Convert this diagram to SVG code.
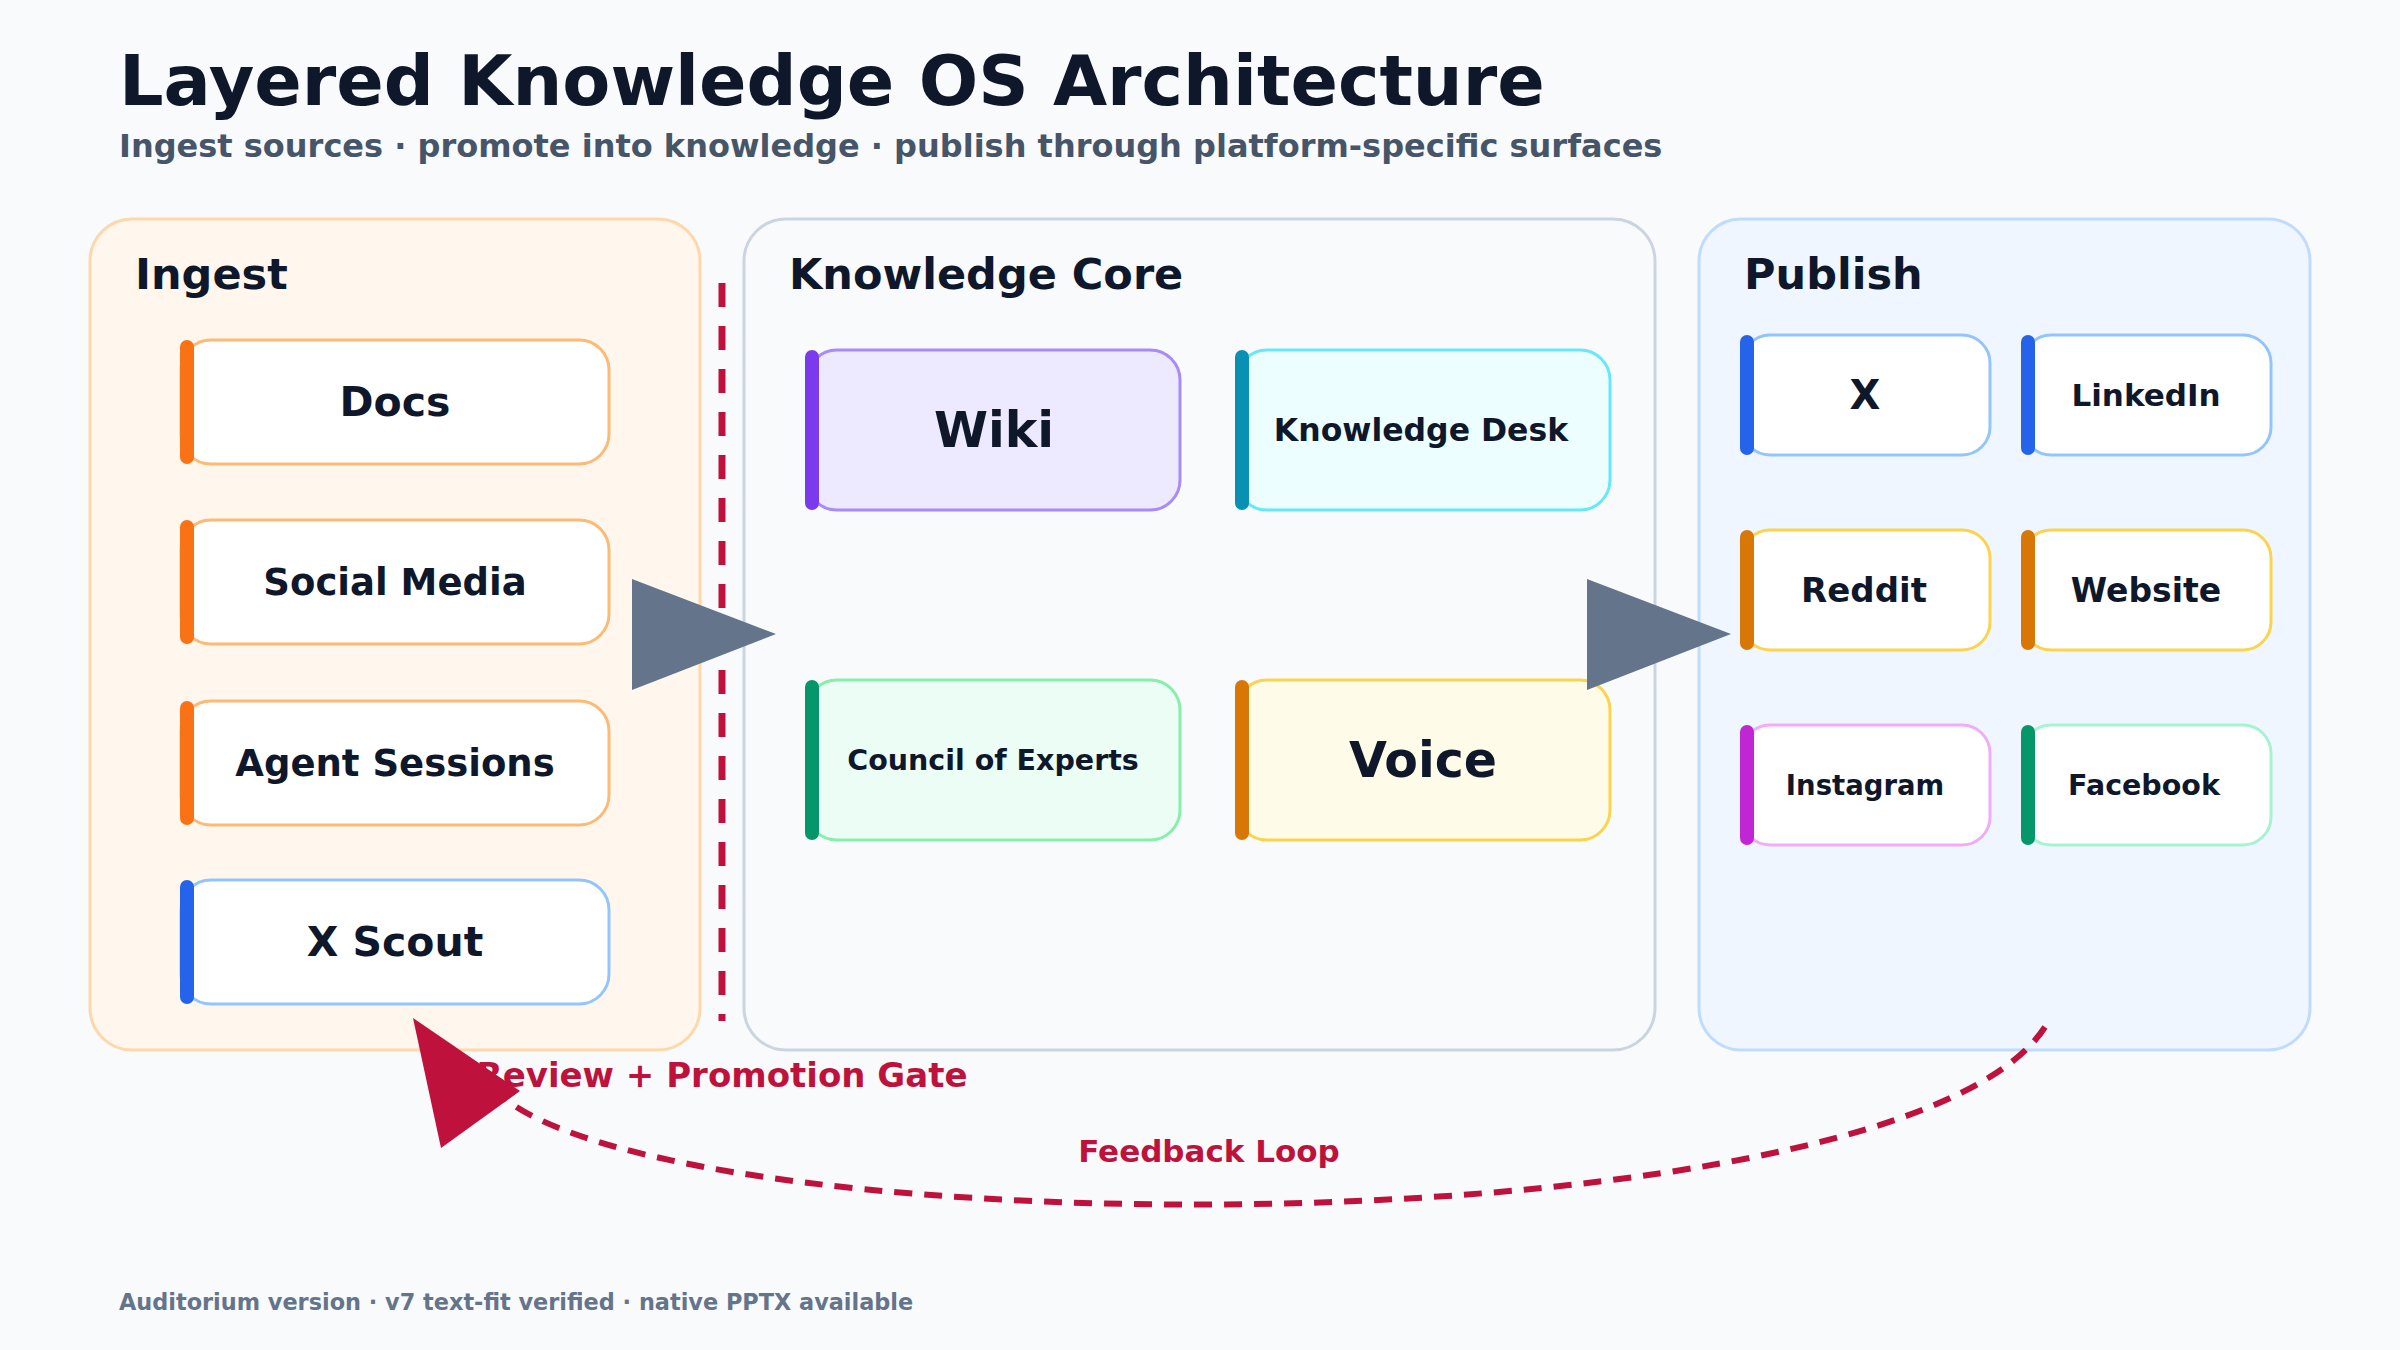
<svg xmlns="http://www.w3.org/2000/svg" width="2400" height="1350" viewBox="0 0 2400 1350">
<style>
text{font-family:"DejaVu Sans","Liberation Sans",sans-serif;font-weight:bold;fill:#0f172a}
.c{text-anchor:middle}
.panel{stroke-width:3}
.node{stroke-width:3}
.lbl{dominant-baseline:central;text-anchor:middle}
</style>
<rect width="2400" height="1350" fill="#f8fafc"/>
<text x="119" y="105" font-size="70">Layered Knowledge OS Architecture</text>
<text x="119" y="157" font-size="32" style="fill:#475569">Ingest sources · promote into knowledge · publish through platform-specific surfaces</text>

<g id="panel-ingest"><rect class="panel" x="90" y="219" width="610" height="831" rx="42" fill="#fff7ed" stroke="#fed7aa"/><text x="135" y="289" font-size="43">Ingest</text></g>
<g id="panel-core"><rect class="panel" x="744" y="219" width="911" height="831" rx="42" fill="#f8fafc" stroke="#cbd5e1"/><text x="789" y="289" font-size="43">Knowledge Core</text></g>
<g id="panel-publish"><rect class="panel" x="1699" y="219" width="611" height="831" rx="42" fill="#eff6ff" stroke="#bfdbfe"/><text x="1744" y="289" font-size="43">Publish</text></g>

<g id="docs"><rect class="node" x="181" y="340" width="428" height="124" rx="30" fill="#fff" stroke="#fdba74"/><rect x="180" y="340" width="14" height="124" rx="7" fill="#f97316"/><text class="lbl" x="395" y="402" font-size="41">Docs</text></g>
<g id="social"><rect class="node" x="181" y="520" width="428" height="124" rx="30" fill="#fff" stroke="#fdba74"/><rect x="180" y="520" width="14" height="124" rx="7" fill="#f97316"/><text class="lbl" x="395" y="582" font-size="37">Social Media</text></g>
<g id="agent"><rect class="node" x="181" y="701" width="428" height="124" rx="30" fill="#fff" stroke="#fdba74"/><rect x="180" y="701" width="14" height="124" rx="7" fill="#f97316"/><text class="lbl" x="395" y="763" font-size="37">Agent Sessions</text></g>
<g id="xscout"><rect class="node" x="181" y="880" width="428" height="124" rx="30" fill="#fff" stroke="#93c5fd"/><rect x="180" y="880" width="14" height="124" rx="7" fill="#2563eb"/><text class="lbl" x="395" y="942" font-size="41">X Scout</text></g>

<g id="wiki"><rect class="node" x="807" y="350" width="373" height="160" rx="30" fill="#ede9fe" stroke="#a78bfa"/><rect x="805" y="350" width="14" height="160" rx="7" fill="#7c3aed"/><text class="lbl" x="994" y="430" font-size="49">Wiki</text></g>
<g id="desk"><rect class="node" x="1237" y="350" width="373" height="160" rx="30" fill="#ecfeff" stroke="#67e8f9"/><rect x="1235" y="350" width="14" height="160" rx="7" fill="#0891b2"/><text class="lbl" x="1421" y="430" font-size="31.5">Knowledge Desk</text></g>
<g id="council"><rect class="node" x="807" y="680" width="373" height="160" rx="30" fill="#ecfdf5" stroke="#86efac"/><rect x="805" y="680" width="14" height="160" rx="7" fill="#059669"/><text class="lbl" x="993" y="760" font-size="28.5">Council of Experts</text></g>
<g id="voice"><rect class="node" x="1237" y="680" width="373" height="160" rx="30" fill="#fefce8" stroke="#fcd34d"/><rect x="1235" y="680" width="14" height="160" rx="7" fill="#d97706"/><text class="lbl" x="1423" y="760" font-size="49">Voice</text></g>

<g id="x"><rect class="node" x="1742" y="335" width="248" height="120" rx="28" fill="#fff" stroke="#93c5fd"/><rect x="1740" y="335" width="14" height="120" rx="7" fill="#2563eb"/><text class="lbl" x="1865" y="395" font-size="40">X</text></g>
<g id="linkedin"><rect class="node" x="2023" y="335" width="248" height="120" rx="28" fill="#fff" stroke="#93c5fd"/><rect x="2021" y="335" width="14" height="120" rx="7" fill="#2563eb"/><text class="lbl" x="2146" y="395" font-size="31">LinkedIn</text></g>
<g id="reddit"><rect class="node" x="1742" y="530" width="248" height="120" rx="28" fill="#fff" stroke="#fcd34d"/><rect x="1740" y="530" width="14" height="120" rx="7" fill="#d97706"/><text class="lbl" x="1864" y="590" font-size="34">Reddit</text></g>
<g id="website"><rect class="node" x="2023" y="530" width="248" height="120" rx="28" fill="#fff" stroke="#fcd34d"/><rect x="2021" y="530" width="14" height="120" rx="7" fill="#d97706"/><text class="lbl" x="2146" y="590" font-size="33">Website</text></g>
<g id="instagram"><rect class="node" x="1742" y="725" width="248" height="120" rx="28" fill="#fff" stroke="#f0abfc"/><rect x="1740" y="725" width="14" height="120" rx="7" fill="#c026d3"/><text class="lbl" x="1865" y="785" font-size="27.5">Instagram</text></g>
<g id="facebook"><rect class="node" x="2023" y="725" width="248" height="120" rx="28" fill="#fff" stroke="#a7f3d0"/><rect x="2021" y="725" width="14" height="120" rx="7" fill="#059669"/><text class="lbl" x="2144" y="785" font-size="28.5">Facebook</text></g>

<g id="connectors">
<line x1="722" y1="283" x2="722" y2="1021" stroke="#be123c" stroke-width="7" stroke-dasharray="24 19"/>
<polygon points="632,579 632,690 776,634" fill="#64748b"/>
<polygon points="1587,579 1587,690 1731,634" fill="#64748b"/>
<path d="M2045 1027 C1900 1250 700 1250 505 1099" fill="none" stroke="#be123c" stroke-width="6" stroke-dasharray="18 12"/>
<text x="722" y="1087" font-size="34" class="c" style="fill:#be123c">Review + Promotion Gate</text>
<polygon points="413,1018 441,1148 520,1091" fill="#be123c"/>
<text x="1209" y="1162" font-size="31" class="c" style="fill:#be123c">Feedback Loop</text>
</g>
<text x="119" y="1310" font-size="22.4" style="fill:#64748b">Auditorium version · v7 text-fit verified · native PPTX available</text>
</svg>
